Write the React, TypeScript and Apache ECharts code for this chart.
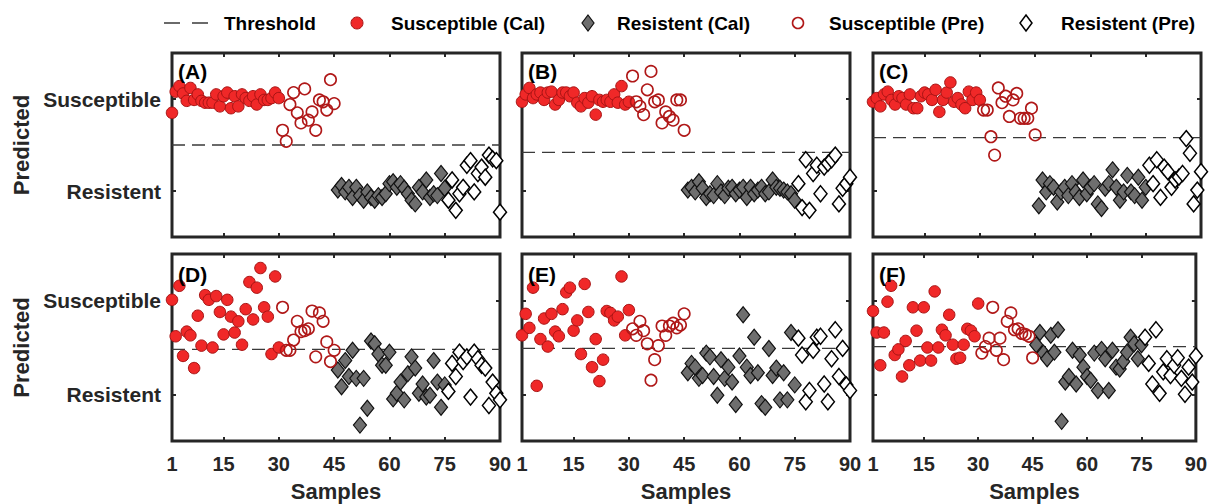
import React, { useEffect, useRef } from "react";
import * as echarts from "echarts";

// ---------- data ----------
const xTicks = [1, 15, 30, 45, 60, 75, 90];
const yTickValues = [0, 1];
const yTickLabels = ["Resistent", "Susceptible"];
const panelLabels = ["(A)", "(B)", "(C)", "(D)", "(E)", "(F)"];
const thresholds = [0.5, 0.42, 0.58, 0.48, 0.49, 0.51];
// first sample number of each group
const startSusCal = 1;
const startSusPre = 31;
const startResCal = 46;
const startResPre = 76;

const A_susCal = [0.85,1.08,1.14,1.06,0.98,1.12,0.99,1.05,0.98,0.96,0.96,0.96,1.05,0.92,1.03,1.07,0.9,1.03,0.92,1.05,1.01,0.98,1.03,0.94,1.05,0.99,0.99,1.01,1.07,1.01];
const A_susPre = [0.66,0.54,0.94,1.07,0.85,0.74,1.11,0.77,0.86,0.66,0.99,0.97,0.88,1.21,0.95];
const A_resCal = [0.01,0.06,-0.01,0.04,-0.07,0.04,-0.05,-0.1,-0.01,-0.07,-0.1,-0.05,-0.07,-0.03,0.08,0.1,0.04,0.08,0.03,-0.03,-0.1,-0.14,0.04,-0.01,0.12,-0.07,-0.03,-0.05,0.19,0.03];
const A_resPre = [-0.1,0.12,-0.21,-0.03,0.04,0.28,0.33,-0.01,0.19,0.26,0.15,0.39,0.35,0.33,-0.23];

const B_susCal = [0.97,1.05,1.12,1.01,1.05,1.07,0.99,1.07,1.08,0.94,0.99,1.07,1.07,1.03,1.07,0.96,0.92,1.01,0.96,1.03,0.83,0.99,0.97,0.99,0.97,1.05,0.96,1.14,0.94,0.97];
const B_susPre = [1.25,0.97,0.92,0.83,1.1,1.3,0.97,0.99,0.74,0.86,0.81,0.77,0.99,0.99,0.66];
const B_resCal = [0.01,0.04,-0.01,0.1,0.03,-0.07,-0.03,-0.05,0.08,-0.01,-0.05,0.03,0.04,-0.03,0.01,0.04,-0.07,0.04,-0.03,0.01,0.04,-0.03,-0.01,0.12,0.04,0.03,0.01,-0.01,-0.03,-0.1];
const B_resPre = [0.08,-0.18,0.34,-0.21,0.19,0.28,-0.03,0.26,0.3,0.34,0.39,-0.14,0.03,0.08,0.15];

const C_susCal = [0.97,1.01,0.92,1.05,1.08,0.99,0.94,1.03,1.01,0.94,1.05,0.9,0.9,1.03,1.07,1.05,0.99,1.1,0.86,0.99,1.07,1.18,0.97,1.01,0.94,0.9,1.08,0.99,1.07,0.99];
const C_susPre = [0.88,0.88,0.59,0.39,1.12,0.96,1.03,0.81,0.99,1.06,0.79,0.79,0.79,0.9,0.61];
const C_resCal = [-0.16,0.12,-0.01,0.08,0.04,-0.12,-0.01,0.04,-0.05,0.08,-0.01,-0.07,0.12,-0.03,0.04,0.08,-0.14,-0.19,0.03,0.08,0.23,0.04,-0.1,-0.01,0.17,-0.01,-0.05,0.15,-0.1,0.04];
const C_resPre = [0.28,0.08,0.34,-0.07,0.26,0.21,0.04,0.12,0.15,0.19,0.57,0.41,-0.14,0.01,0.21];

const D_susCal = [1.01,0.62,1.16,0.41,0.67,0.63,0.28,0.84,0.52,1.06,1.01,0.5,1.05,0.88,0.64,1.01,0.83,0.66,0.78,0.53,0.91,1.2,0.8,1.14,1.35,0.93,0.83,0.43,1.26,0.5];
const D_susPre = [0.93,0.47,0.47,0.58,0.78,0.67,0.68,0.7,0.89,0.4,0.87,0.78,0.56,0.35,0.47];
const D_resCal = [0.26,0.08,0.36,0.19,0.47,0.17,-0.33,0.17,-0.15,0.57,0.54,0.43,0.31,0.31,0.45,-0.05,0.01,0.13,-0.06,0.22,0.4,0.28,0.01,0.11,-0.03,-0.01,0.36,0.13,-0.14,0.1];
const D_resPre = [0.03,0.33,0.19,0.45,0.35,0.4,-0.03,0.45,0.38,0.31,0.28,-0.12,0.13,0.01,-0.06];

const E_susCal = [0.63,0.86,0.71,1.14,0.09,0.59,0.81,0.51,0.86,0.67,0.62,0.91,1.09,1.14,0.68,0.79,0.43,1.18,0.88,0.29,0.59,0.14,0.37,0.89,0.87,0.79,0.83,1.26,0.63,0.9];
const E_susPre = [0.7,0.63,0.78,0.68,0.54,0.15,0.37,0.52,0.73,0.63,0.73,0.76,0.71,0.74,0.86];
const E_resCal = [0.23,0.33,0.29,0.17,0.2,0.44,0.4,0.19,-0.01,0.37,0.17,0.29,0.13,-0.11,0.41,0.85,0.29,0.2,0.61,0.23,-0.1,-0.14,0.49,0.2,0.28,-0.06,0.23,-0.06,0.66,0.1];
const E_resPre = [0.6,0.42,-0.08,0.04,0.47,0.61,0.62,0.11,-0.08,0.38,0.69,0.19,0.49,0.1,0.04];

const F_susCal = [0.89,0.66,0.31,0.66,0.99,1.16,0.42,0.48,0.19,0.57,0.31,0.93,0.68,0.36,0.93,0.5,0.36,1.1,0.5,0.69,0.63,0.85,0.53,0.38,0.39,0.53,0.7,0.68,0.62,0.97];
const F_susPre = [0.44,0.51,0.6,0.93,0.47,0.6,0.37,0.78,0.87,0.69,0.7,0.65,0.64,0.62,0.39];
const F_resCal = [0.53,0.66,0.44,0.38,0.63,0.45,0.69,-0.29,0.13,0.19,0.47,0.11,0.42,0.29,0.19,0.15,0.44,0.04,0.48,0.38,0.04,0.47,0.29,0.27,0.35,0.45,0.61,0.54,0.38,0.53];
const F_resPre = [0.61,0.33,0.11,0.69,0.01,0.24,0.38,0.2,0.31,0.39,0.17,0.0,0.29,0.13,0.41];

const panels = [
  [A_susCal, A_susPre, A_resCal, A_resPre],
  [B_susCal, B_susPre, B_resCal, B_resPre],
  [C_susCal, C_susPre, C_resCal, C_resPre],
  [D_susCal, D_susPre, D_resCal, D_resPre],
  [E_susCal, E_susPre, E_resCal, E_resPre],
  [F_susCal, F_susPre, F_resCal, F_resPre],
];

// ---------- style ----------
const FONT = "'Liberation Sans', Arial, Helvetica, sans-serif";
const AXIS_COLOR = "#262626";
const RED_FILL = "#f02828";
const RED_EDGE = "#a81414";
const PRE_RED = "#b01818";
const GRAY_FILL = "#6e6e6e";
const DIAMOND_SIZE = [13, 16];
const CIRCLE_SIZE = 11.5;

const colLeft = [172, 522, 873];
const rowTop = [53, 254];
const rowHeight = [184, 187];
const plotWidth = 328;

function toPoints(values: number[], start: number) {
  return values.map((v, i) => [start + i, v]);
}

function buildOption() {
  const grid: any[] = [];
  const xAxis: any[] = [];
  const yAxis: any[] = [];
  const series: any[] = [];
  const graphic: any[] = [];

  panels.forEach((groups, i) => {
    const r = Math.floor(i / 3);
    const c = i % 3;
    grid.push({
      left: colLeft[c],
      top: rowTop[r],
      width: plotWidth,
      height: rowHeight[r],
      show: true,
      borderColor: AXIS_COLOR,
      borderWidth: 3,
      backgroundColor: "#fff",
    });
    const tickStyle = { show: true, inside: true, length: 4, lineStyle: { color: AXIS_COLOR, width: 2 } };
    const hiddenLine = { show: false, onZero: false };
    xAxis.push({
      type: "value",
      gridIndex: i,
      min: 1,
      max: 90,
      position: "bottom",
      axisLine: hiddenLine,
      splitLine: { show: false },
      axisTick: { ...tickStyle, customValues: xTicks },
      axisLabel: {
        show: r === 1,
        customValues: xTicks,
        fontSize: 20,
        fontWeight: "bold",
        fontFamily: FONT,
        color: AXIS_COLOR,
        margin: 13,
      },
      name: r === 1 ? "Samples" : "",
      nameLocation: "middle",
      nameGap: 39,
      nameTextStyle: { fontSize: 22, fontWeight: "bold", fontFamily: FONT, color: AXIS_COLOR },
    });
    xAxis.push({
      type: "value",
      gridIndex: i,
      min: 1,
      max: 90,
      position: "top",
      axisLine: hiddenLine,
      splitLine: { show: false },
      axisTick: { ...tickStyle, customValues: xTicks },
      axisLabel: { show: false },
    });
    yAxis.push({
      type: "value",
      gridIndex: i,
      min: -0.5,
      max: 1.5,
      position: "left",
      axisLine: hiddenLine,
      splitLine: { show: false },
      axisTick: { ...tickStyle, customValues: yTickValues },
      axisLabel: {
        show: c === 0,
        customValues: yTickValues,
        formatter: (v: number) => yTickLabels[Math.round(v)] ?? "",
        fontSize: 21,
        fontWeight: "bold",
        fontFamily: FONT,
        color: AXIS_COLOR,
        margin: 11,
      },
      name: c === 0 ? "Predicted" : "",
      nameLocation: "middle",
      nameGap: 140,
      nameRotate: 90,
      nameTextStyle: { fontSize: 22, fontWeight: "bold", fontFamily: FONT, color: AXIS_COLOR },
    });
    yAxis.push({
      type: "value",
      gridIndex: i,
      min: -0.5,
      max: 1.5,
      position: "right",
      axisLine: hiddenLine,
      splitLine: { show: false },
      axisTick: { ...tickStyle, customValues: yTickValues },
      axisLabel: { show: false },
    });

    const xi = i * 2;
    const yi = i * 2;
    series.push({
      name: "Threshold",
      type: "line",
      xAxisIndex: xi,
      yAxisIndex: yi,
      data: [[1, thresholds[i]], [90, thresholds[i]]],
      symbol: "none",
      lineStyle: { color: "#3a3a3a", width: 1.3, type: [13, 7] },
      z: 2,
    });
    const [susCal, susPre, resCal, resPre] = groups;
    series.push({
      name: "Susceptible (Cal)",
      type: "scatter",
      xAxisIndex: xi,
      yAxisIndex: yi,
      clip: false,
      symbol: "circle",
      symbolSize: CIRCLE_SIZE,
      itemStyle: { color: RED_FILL, borderColor: RED_EDGE, borderWidth: 1, opacity: 1 },
      data: toPoints(susCal, startSusCal),
      z: 3,
    });
    series.push({
      name: "Resistent (Cal)",
      type: "scatter",
      xAxisIndex: xi,
      yAxisIndex: yi,
      clip: false,
      symbol: "diamond",
      symbolSize: DIAMOND_SIZE,
      itemStyle: { color: GRAY_FILL, borderColor: "#111", borderWidth: 1.2, opacity: 1 },
      data: toPoints(resCal, startResCal),
      z: 3,
    });
    series.push({
      name: "Susceptible (Pre)",
      type: "scatter",
      xAxisIndex: xi,
      yAxisIndex: yi,
      clip: false,
      symbol: "circle",
      symbolSize: CIRCLE_SIZE,
      itemStyle: { color: "rgba(255,255,255,0)", borderColor: PRE_RED, borderWidth: 1.6, opacity: 1 },
      data: toPoints(susPre, startSusPre),
      z: 3,
    });
    series.push({
      name: "Resistent (Pre)",
      type: "scatter",
      xAxisIndex: xi,
      yAxisIndex: yi,
      clip: false,
      symbol: "diamond",
      symbolSize: DIAMOND_SIZE,
      itemStyle: { color: "#fff", borderColor: "#000", borderWidth: 1.5, opacity: 1 },
      data: toPoints(resPre, startResPre),
      z: 3,
    });

    graphic.push({
      type: "text",
      left: colLeft[c] + 6,
      top: rowTop[r] + (r === 0 ? 8 : 10),
      style: { text: panelLabels[i], fontSize: 21, fontWeight: "bold", fontFamily: FONT, fill: "#000" },
      z: 10,
    });
  });

  // legend (drawn as graphics for exact placement)
  const ly = 23;
  const legendText = (text: string, x: number) => ({
    type: "text",
    x,
    y: ly,
    style: { text, fontSize: 19, fontWeight: "bold", fontFamily: FONT, fill: "#000", verticalAlign: "middle", align: "left" },
  });
  graphic.push(
    { type: "line", shape: { x1: 164, y1: ly, x2: 210, y2: ly }, style: { stroke: "#3a3a3a", lineWidth: 1.6, lineDash: [16, 12] } },
    legendText("Threshold", 224),
    { type: "circle", shape: { cx: 357, cy: ly, r: 6 }, style: { fill: RED_FILL, stroke: RED_EDGE, lineWidth: 1 } },
    legendText("Susceptible (Cal)", 391),
    { type: "polygon", shape: { points: [[588, ly - 8], [594, ly], [588, ly + 8], [582, ly]] }, style: { fill: GRAY_FILL, stroke: "#111", lineWidth: 1.2 } },
    legendText("Resistent (Cal)", 617),
    { type: "circle", shape: { cx: 798, cy: ly, r: 5.5 }, style: { fill: "#fff", stroke: PRE_RED, lineWidth: 1.6 } },
    legendText("Susceptible (Pre)", 829),
    { type: "polygon", shape: { points: [[1026, ly - 8], [1032, ly], [1026, ly + 8], [1020, ly]] }, style: { fill: "#fff", stroke: "#000", lineWidth: 1.5 } },
    legendText("Resistent (Pre)", 1061)
  );

  return {
    animation: false,
    backgroundColor: "#fff",
    grid,
    xAxis,
    yAxis,
    series,
    graphic,
  };
}

export default function App() {
  const ref = useRef<HTMLDivElement>(null);
  useEffect(() => {
    if (!ref.current) return;
    const chart = echarts.init(ref.current, undefined, { renderer: "svg" });
    chart.setOption(buildOption());
    return () => chart.dispose();
  }, []);
  return (
    <div
      ref={ref}
      style={{ position: "absolute", left: 0, top: 0, width: 1210, height: 504, background: "#fff" }}
    />
  );
}
